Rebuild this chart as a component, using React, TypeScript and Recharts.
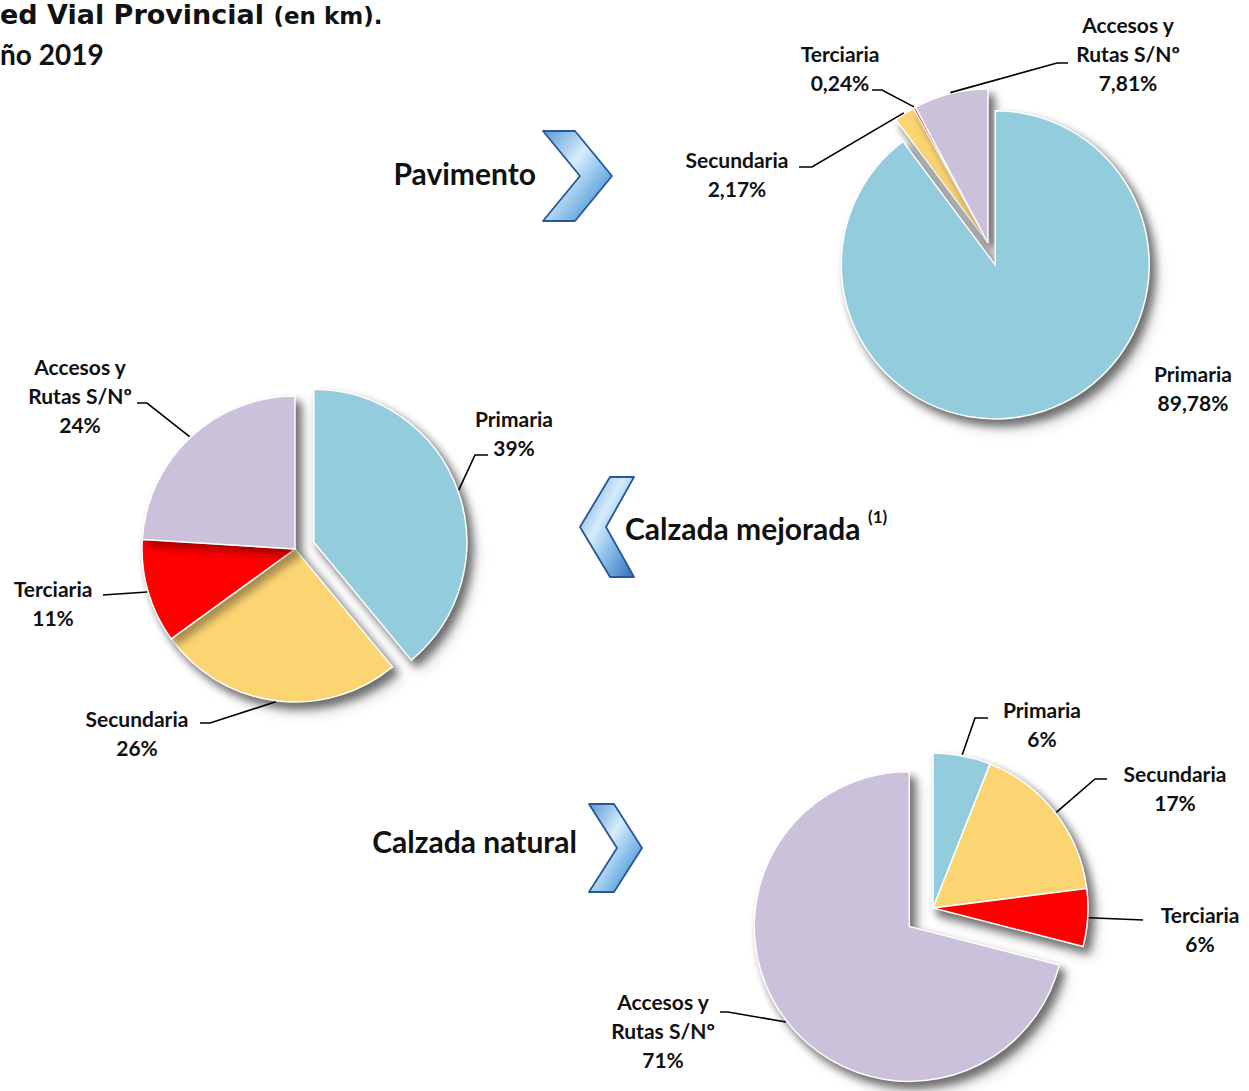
import React from "react";
import { PieChart, Pie, Cell } from "recharts";

// categories and their colours (same order in every pie)
const CATEGORIES = ["Primaria", "Secundaria", "Terciaria", "Accesos y Rutas S/Nº"];
const CATEGORY_LINES = [["Primaria"], ["Secundaria"], ["Terciaria"], ["Accesos y", "Rutas S/Nº"]];
const COLORS = ["#93CDDD", "#FCD573", "#FF0000", "#CCC1DA"];

// shares (%) per type of road surface
const PAVIMENTO = [89.78, 2.17, 0.24, 7.81];
const MEJORADA = [39, 26, 11, 24];
const NATURAL = [6, 17, 6, 71];

const FONT = "Lato, 'Open Sans', sans-serif";
const RAD = Math.PI / 180;

type Pt = [number, number];
type LabelLayout = { end?: Pt; elbow?: Pt; tx: number; ty: number };

interface PieCfg {
  id: string;
  values: number[];
  decimals: number;
  cx: number;
  cy: number;
  r: number;
  exploded: number;
  explode: number;
  labels: LabelLayout[];
}

const PIES: PieCfg[] = [
  {
    id: "pav",
    values: PAVIMENTO,
    decimals: 2,
    cx: 988,
    cy: 243,
    r: 154,
    exploded: 0,
    explode: 23,
    labels: [
      { tx: 1193, ty: 382 },
      { elbow: [812, 167], end: [799, 167], tx: 737, ty: 168 },
      { elbow: [882, 90], end: [872, 90], tx: 840, ty: 62 },
      { elbow: [1057, 63], end: [1068, 63], tx: 1128, ty: 33 },
    ],
  },
  {
    id: "mej",
    values: MEJORADA,
    decimals: 0,
    cx: 295,
    cy: 549,
    r: 153,
    exploded: 0,
    explode: 20,
    labels: [
      { elbow: [475, 455], end: [488, 455], tx: 514, ty: 427 },
      { elbow: [210, 723], end: [200, 723], tx: 137, ty: 727 },
      { end: [103, 595], tx: 53, ty: 597 },
      { elbow: [147, 403], end: [137, 403], tx: 80, ty: 375 },
    ],
  },
  {
    id: "nat",
    values: NATURAL,
    decimals: 0,
    cx: 933,
    cy: 908,
    r: 155,
    exploded: 3,
    explode: 30,
    labels: [
      { elbow: [975, 718], end: [988, 718], tx: 1042, ty: 718 },
      { elbow: [1095, 779], end: [1107, 779], tx: 1175, ty: 782 },
      { end: [1143, 920], tx: 1200, ty: 923 },
      { elbow: [728, 1012], end: [720, 1012], tx: 663, ty: 1010 },
    ],
  },
];

const fmt = (v: number, d: number) => `${v.toFixed(d).replace(".", ",")}%`;

// offset of the exploded slice, along its bisector
function explodeOffset(cfg: PieCfg): Pt {
  const total = cfg.values.reduce((a, b) => a + b, 0);
  const before = cfg.values.slice(0, cfg.exploded).reduce((a, b) => a + b, 0);
  const mid = 90 - ((before + cfg.values[cfg.exploded] / 2) / total) * 360;
  return [cfg.explode * Math.cos(-mid * RAD), cfg.explode * Math.sin(-mid * RAD)];
}

function makeLabel(cfg: PieCfg) {
  return (props: any) => {
    const { cx, cy, midAngle, outerRadius, index } = props;
    const lay = cfg.labels[index];
    let ox = cx;
    let oy = cy;
    if (index === cfg.exploded) {
      ox += cfg.explode * Math.cos(-midAngle * RAD);
      oy += cfg.explode * Math.sin(-midAngle * RAD);
    }
    const sx = ox + (outerRadius + 1) * Math.cos(-midAngle * RAD);
    const sy = oy + (outerRadius + 1) * Math.sin(-midAngle * RAD);
    const lines = [...CATEGORY_LINES[index], fmt(cfg.values[index], cfg.decimals)];
    const pts: Pt[] = lay.end ? [[sx, sy], ...(lay.elbow ? [lay.elbow] : []), lay.end] : [];
    return (
      <g key={`${cfg.id}-lab-${index}`}>
        {pts.length > 0 && (
          <polyline
            points={pts.map((p) => p.join(",")).join(" ")}
            fill="none"
            stroke="#000"
            strokeWidth={1.6}
          />
        )}
        <text textAnchor="middle" fontFamily={FONT} fontWeight={700} fontSize={21} fill="#111">
          {lines.map((l, i) => (
            <tspan key={i} x={lay.tx} y={lay.ty + i * 29}>
              {l}
            </tspan>
          ))}
        </text>
      </g>
    );
  };
}

function Chevron({ pts, id }: { pts: Pt[]; id: string }) {
  return (
    <polygon
      points={pts.map((p) => p.join(",")).join(" ")}
      fill={`url(#${id})`}
      stroke="#24589a"
      strokeWidth={1.8}
      strokeLinejoin="round"
    />
  );
}

export default function App() {
  return (
    <div style={{ position: "absolute", left: 0, top: 0, width: 1249, height: 1091, background: "#fff" }}>
      <style>{`.shade-pie{filter:drop-shadow(5px 6px 4px rgba(0,0,0,0.35));}`}</style>
      <PieChart width={1249} height={1091} margin={{ top: 0, right: 0, bottom: 0, left: 0 }}>
        {PIES.map((cfg) => {
          const data = cfg.values.map((v, i) => ({ name: CATEGORIES[i], value: v }));
          const [dx, dy] = explodeOffset(cfg);
          return [
            <Pie
              key={`${cfg.id}-base`}
              className="shade-pie"
              data={data}
              dataKey="value"
              cx={cfg.cx}
              cy={cfg.cy}
              outerRadius={cfg.r}
              startAngle={90}
              endAngle={-270}
              stroke="#fff"
              strokeWidth={1.5}
              isAnimationActive={false}
            >
              {data.map((_, i) => (
                <Cell
                  key={i}
                  fill={i === cfg.exploded ? "none" : COLORS[i]}
                  stroke={i === cfg.exploded ? "none" : "#fff"}
                />
              ))}
            </Pie>,
            <Pie
              key={`${cfg.id}-exp`}
              className="shade-pie"
              data={data}
              dataKey="value"
              cx={cfg.cx + dx}
              cy={cfg.cy + dy}
              outerRadius={cfg.r}
              startAngle={90}
              endAngle={-270}
              stroke="#fff"
              strokeWidth={1.5}
              isAnimationActive={false}
            >
              {data.map((_, i) => (
                <Cell
                  key={i}
                  fill={i === cfg.exploded ? COLORS[i] : "none"}
                  stroke={i === cfg.exploded ? "#fff" : "none"}
                />
              ))}
            </Pie>,
            <Pie
              key={`${cfg.id}-lab`}
              data={data}
              dataKey="value"
              cx={cfg.cx}
              cy={cfg.cy}
              outerRadius={cfg.r}
              startAngle={90}
              endAngle={-270}
              fill="none"
              stroke="none"
              label={makeLabel(cfg)}
              labelLine={false}
              isAnimationActive={false}
            >
              {data.map((_, i) => (
                <Cell key={i} fill="none" stroke="none" />
              ))}
            </Pie>,
          ];
        })}
      </PieChart>

      <svg
        width={1249}
        height={1091}
        style={{ position: "absolute", left: 0, top: 0, pointerEvents: "none" }}
      >
        <defs>
          <linearGradient id="chev" x1="0" y1="0" x2="1" y2="1">
            <stop offset="0%" stopColor="#5b98d3" />
            <stop offset="40%" stopColor="#d5ecfb" />
            <stop offset="65%" stopColor="#86bde8" />
            <stop offset="100%" stopColor="#2f70b6" />
          </linearGradient>
        </defs>
        {/* title, cut at the left edge as in the source */}
        <text x={0} y={24} fontFamily="'DejaVu Sans', sans-serif" fontWeight={700} fontSize={27} fill="#111">
          ed Vial Provincial <tspan fontSize={23}>(en km).</tspan>
        </text>
        <text x={0} y={65} fontFamily={FONT} fontWeight={700} fontSize={28} fill="#111">
          ño 2019
        </text>

        <Chevron id="chev" pts={[[543, 131], [575, 131], [612, 176], [575, 221], [543, 221], [580, 176]]} />
        <Chevron id="chev" pts={[[634, 477], [610, 477], [580, 527], [610, 577], [634, 577], [606, 527]]} />
        <Chevron id="chev" pts={[[589, 804], [614, 804], [642, 848], [614, 892], [589, 892], [617, 848]]} />

        <text x={536} y={185} textAnchor="end" fontFamily={FONT} fontWeight={700} fontSize={30} fill="#111">
          Pavimento
        </text>
        <text x={625} y={540} fontFamily={FONT} fontWeight={700} fontSize={30} fill="#111">
          Calzada mejorada
        </text>
        <text x={868} y={523} fontFamily={FONT} fontWeight={700} fontSize={17} fill="#111">
          (1)
        </text>
        <text x={577} y={853} textAnchor="end" fontFamily={FONT} fontWeight={700} fontSize={30} fill="#111">
          Calzada natural
        </text>
      </svg>
    </div>
  );
}
